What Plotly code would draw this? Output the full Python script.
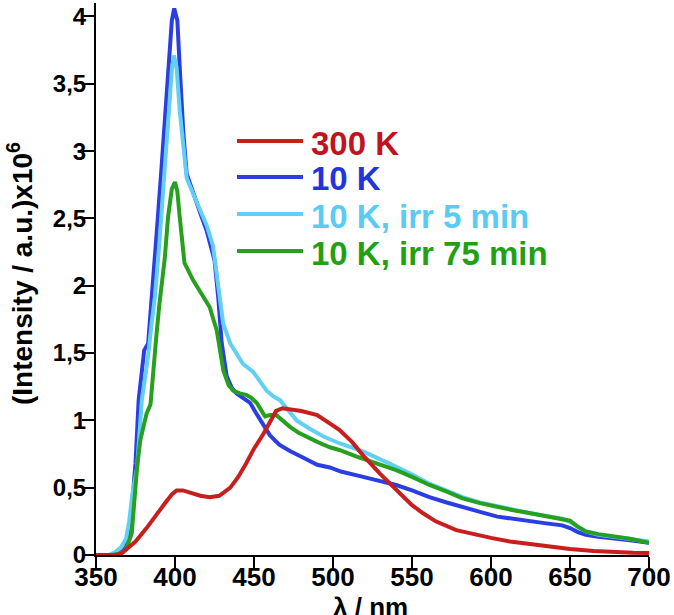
import plotly.graph_objects as go

# ---- data ----
red_x = [350, 362, 366, 370, 375, 382, 388, 394, 398, 401, 405, 410, 416, 422, 428, 435, 440, 445,
         450, 456, 460, 464, 468, 473, 480, 490, 498, 504, 512, 519, 530, 540, 550, 557, 565, 578,
         590, 600, 612, 625, 637, 650, 665, 677, 690, 700]
red_y = [0, 0, 0.01, 0.05, 0.1, 0.2, 0.3, 0.39, 0.45, 0.48, 0.48, 0.46, 0.44, 0.43, 0.44, 0.5, 0.58, 0.68,
         0.79, 0.9, 0.99, 1.07, 1.09, 1.08, 1.07, 1.04, 0.98, 0.93, 0.84, 0.74, 0.6, 0.48, 0.37, 0.31, 0.25, 0.185,
         0.15, 0.127, 0.1, 0.08, 0.06, 0.045, 0.03, 0.022, 0.017, 0.015]

blue_x = [350, 360, 364, 367, 369, 371, 373, 375, 377, 379, 380.5, 383, 386, 388.4, 391.5, 393.5, 395.6,
          398, 399.5, 401.5, 403, 405.3, 407.4, 411.6, 416, 420, 425, 427.4, 429.5, 432.7, 436, 439, 443,
          447.5, 451, 454, 457, 460, 466, 473, 480, 490, 498, 505, 519, 530, 540, 550, 561, 572, 582,
          593, 604, 615, 625, 635, 645, 650, 655, 660, 668, 677, 688, 700]
blue_y = [0, 0, 0.01, 0.03, 0.06, 0.16, 0.4, 0.68, 1.15, 1.38, 1.52, 1.57, 2.0, 2.39, 2.88, 3.25, 3.62,
          3.97, 4.06, 3.97, 3.62, 3.13, 2.83, 2.68, 2.54, 2.41, 2.19, 1.91, 1.58, 1.33, 1.24, 1.2, 1.17,
          1.13, 1.06, 1.0, 0.94, 0.89, 0.82, 0.77, 0.73, 0.67, 0.65, 0.62, 0.58, 0.55, 0.52, 0.48, 0.43, 0.39, 0.36,
          0.32, 0.285, 0.265, 0.25, 0.235, 0.22, 0.2, 0.17, 0.15, 0.135, 0.125, 0.11, 0.09]

cyan_x = [350, 358, 362, 366, 369, 371, 373, 376, 379, 381, 383, 385, 387.3, 390, 393.7, 396, 398, 399.3,
          401, 403, 405.3, 407.4, 411.6, 416, 420, 424, 427, 430.5, 435, 439, 443, 449.5, 454, 458, 462,
          466.5, 472, 477, 485, 494, 504, 519, 530, 540, 550, 561, 572, 582, 593, 604, 615, 625, 635, 645,
          650, 655, 660, 668, 677, 688, 700]
cyan_y = [0, 0, 0.02, 0.06, 0.12, 0.25, 0.45, 0.65, 1.15, 1.3, 1.48, 1.7, 1.92, 2.3, 2.88, 3.3, 3.6, 3.71,
          3.62, 3.3, 3.0, 2.8, 2.68, 2.56, 2.45, 2.3, 2.04, 1.72, 1.57, 1.49, 1.42, 1.36, 1.29, 1.22, 1.18,
          1.15, 1.07, 1.0, 0.94, 0.88, 0.83, 0.77, 0.71, 0.655, 0.6, 0.53, 0.48, 0.43, 0.39, 0.36, 0.33, 0.31, 0.29, 0.27,
          0.245, 0.21, 0.175, 0.15, 0.135, 0.12, 0.1]

green_x = [350, 360, 365, 369, 372.6, 374.5, 376, 378, 380.4, 382, 384.5, 386, 388, 390, 391.5, 393.5,
           395.6, 398, 400, 401.5, 403, 406, 411.5, 416, 420, 422, 424, 426.4, 430.6, 434, 437, 441, 445,
           448, 451.7, 455, 457, 460, 464, 468, 473, 478, 483, 490, 498, 504, 515, 527, 540, 550, 561, 572,
           582, 593, 604, 615, 625, 635, 645, 650, 655, 660, 668, 677, 688, 700]
green_y = [0, 0, 0.01, 0.04, 0.16, 0.45, 0.65, 0.85, 0.99, 1.05, 1.12, 1.35, 1.6, 1.85, 1.98, 2.2,
           2.51, 2.72, 2.77, 2.7, 2.51, 2.17, 2.04, 1.95, 1.88, 1.84, 1.76, 1.67, 1.37, 1.26, 1.22, 1.2, 1.19,
           1.17, 1.13, 1.06, 1.03, 1.04, 1.04, 1.0, 0.95, 0.91, 0.88, 0.84, 0.80, 0.78, 0.73, 0.68, 0.63, 0.58, 0.52, 0.47,
           0.42, 0.385, 0.355, 0.33, 0.31, 0.29, 0.27, 0.255, 0.21, 0.175, 0.155, 0.14, 0.12, 0.09]

series_names = ["300 K", "10 K", "10 K, irr 5 min", "10 K, irr 75 min"]
x_ticks = [350, 400, 450, 500, 550, 600, 650, 700]
y_ticks = [0, 0.5, 1, 1.5, 2, 2.5, 3, 3.5, 4]

# ---- style ----
C_RED, C_BLUE, C_CYAN, C_GREEN = "#c81e1e", "#2a3ee4", "#62d0f4", "#27a020"
T_RED, T_BLUE, T_CYAN, T_GREEN = "#c0141c", "#2234dc", "#58ccf2", "#22a014"
FONT = "Liberation Sans, Arial, sans-serif"
W, H = 674, 615
L, R, T, B = 96, 25, 3, 60

def px(xp):
    return (xp - L) / (W - L - R)

def py(yp):
    return (H - B - yp) / (H - T - B)

fig = go.Figure()
order = [(blue_x, blue_y, C_BLUE, series_names[1]),
         (cyan_x, cyan_y, C_CYAN, series_names[2]),
         (green_x, green_y, C_GREEN, series_names[3]),
         (red_x, red_y, C_RED, series_names[0])]
for xs, ys, c, n in order:
    fig.add_trace(go.Scatter(x=xs, y=ys, mode="lines", name=n,
                             line=dict(color=c, width=4), showlegend=False))

# manual legend
leg_rows = [(141, C_RED, T_RED, series_names[0]),
            (177, C_BLUE, T_BLUE, series_names[1]),
            (214, C_CYAN, T_CYAN, series_names[2]),
            (251, C_GREEN, T_GREEN, series_names[3])]
shapes = []
annotations = []
for yrow, lc, tc, name in leg_rows:
    shapes.append(dict(type="line", xref="paper", yref="paper",
                       x0=px(237), x1=px(303), y0=py(yrow), y1=py(yrow),
                       line=dict(color=lc, width=4)))
    annotations.append(dict(xref="paper", yref="paper", x=px(309), y=py(yrow + 2),
                            xanchor="left", yanchor="middle", showarrow=False,
                            text=name, font=dict(family=FONT, size=33, color=tc, weight="bold")))

annotations.append(dict(xref="paper", yref="paper", x=px(20), y=py(274),
                        xanchor="center", yanchor="middle", showarrow=False, textangle=-90,
                        text="(Intensity / a.u.)x10<sup>6</sup>",
                        font=dict(family=FONT, size=28, color="black", weight="bold")))
annotations.append(dict(xref="paper", yref="paper", x=px(370), y=py(607),
                        xanchor="center", yanchor="middle", showarrow=False,
                        text="λ / nm",
                        font=dict(family=FONT, size=26, color="black", weight="bold")))

fig.update_layout(
    width=W, height=H,
    margin=dict(l=L, r=R, t=T, b=B),
    paper_bgcolor="white", plot_bgcolor="white",
    separators=", ",
    shapes=shapes, annotations=annotations,
    xaxis=dict(range=[350, 700], tickvals=x_ticks, showgrid=False, zeroline=False,
               showline=True, linecolor="black", linewidth=2,
               ticks="outside", ticklen=11, tickwidth=2, tickcolor="black",
               ticklabelstandoff=-13,
               tickfont=dict(family=FONT, size=26, color="black", weight="bold")),
    yaxis=dict(range=[0, 4.1], tickvals=y_ticks, showgrid=False, zeroline=False,
               showline=True, linecolor="black", linewidth=2,
               ticks="outside", ticklen=12, tickwidth=2, tickcolor="black",
               ticklabelstandoff=-9,
               tickfont=dict(family=FONT, size=24, color="black", weight="bold")),
)

fig.write_html("out.html", config={"displayModeBar": False},
               post_script="document.body.style.margin='0';document.body.style.overflow='hidden';")
